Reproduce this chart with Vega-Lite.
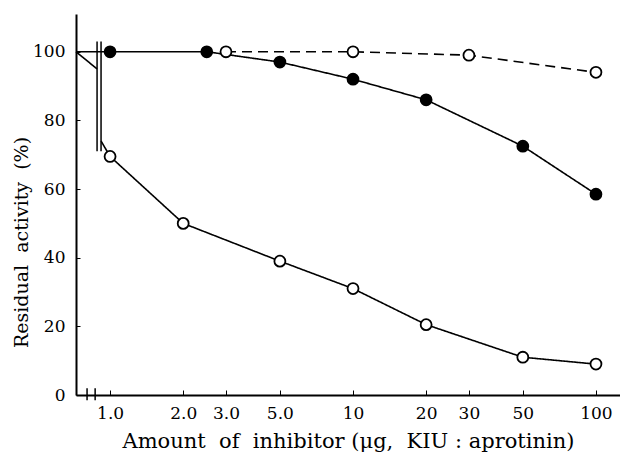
{
  "$schema": "https://vega.github.io/schema/vega-lite/v6.json",
  "width": 544,
  "height": 381,
  "autosize": {"type": "none"},
  "padding": {"left": 76, "top": 14, "right": 0, "bottom": 59},
  "background": "white",
  "config": {
    "view": {"stroke": null}
  },
  "datasets": {
    "lines": [
      {"id": "A", "style": "solid", "x": 0.724, "y": 100},
      {"id": "A", "style": "solid", "x": 0.884, "y": 95},
      {"id": "B", "style": "solid", "x": 0.918, "y": 74},
      {"id": "B", "style": "solid", "x": 1, "y": 69.5},
      {"id": "B", "style": "solid", "x": 2, "y": 50},
      {"id": "B", "style": "solid", "x": 5, "y": 39},
      {"id": "B", "style": "solid", "x": 10, "y": 31},
      {"id": "B", "style": "solid", "x": 20, "y": 20.5},
      {"id": "B", "style": "solid", "x": 50, "y": 11},
      {"id": "B", "style": "solid", "x": 100, "y": 9},
      {"id": "C", "style": "solid", "x": 0.724, "y": 100},
      {"id": "C", "style": "solid", "x": 1, "y": 100},
      {"id": "C", "style": "solid", "x": 2.5, "y": 100},
      {"id": "C", "style": "solid", "x": 5, "y": 97},
      {"id": "C", "style": "solid", "x": 10, "y": 92},
      {"id": "C", "style": "solid", "x": 20, "y": 86},
      {"id": "C", "style": "solid", "x": 50, "y": 72.5},
      {"id": "C", "style": "solid", "x": 100, "y": 58.5},
      {"id": "D", "style": "dashed", "x": 3, "y": 100},
      {"id": "D", "style": "dashed", "x": 10, "y": 100},
      {"id": "D", "style": "dashed", "x": 30, "y": 99},
      {"id": "D", "style": "dashed", "x": 100, "y": 94}
    ],
    "points": [
      {"fill": "open", "x": 1, "y": 69.5},
      {"fill": "open", "x": 2, "y": 50},
      {"fill": "open", "x": 5, "y": 39},
      {"fill": "open", "x": 10, "y": 31},
      {"fill": "open", "x": 20, "y": 20.5},
      {"fill": "open", "x": 50, "y": 11},
      {"fill": "open", "x": 100, "y": 9},
      {"fill": "open", "x": 3, "y": 100},
      {"fill": "open", "x": 10, "y": 100},
      {"fill": "open", "x": 30, "y": 99},
      {"fill": "open", "x": 100, "y": 94},
      {"fill": "filled", "x": 1, "y": 100},
      {"fill": "filled", "x": 2.5, "y": 100},
      {"fill": "filled", "x": 5, "y": 97},
      {"fill": "filled", "x": 10, "y": 92},
      {"fill": "filled", "x": 20, "y": 86},
      {"fill": "filled", "x": 50, "y": 72.5},
      {"fill": "filled", "x": 100, "y": 58.5}
    ],
    "breaks": [
      {"x": 0.884, "y": 71, "y2": 103},
      {"x": 0.918, "y": 71, "y2": 103},
      {"x": 0.804, "y": -1.5, "y2": 2},
      {"x": 0.868, "y": -1.5, "y2": 2}
    ]
  },
  "layer": [
    {
      "mark": {"type": "rule", "color": "black", "strokeWidth": 2},
      "encoding": {"y": {"datum": 111, "type": "quantitative", "scale": {"domain": [0, 111]}}}
    },
    {
      "data": {"name": "lines"},
      "mark": {"type": "line", "color": "black", "strokeWidth": 1.6},
      "encoding": {
        "x": {
          "field": "x", "type": "quantitative",
          "scale": {"type": "log", "domain": [0.724, 125.6], "nice": false},
          "axis": {
            "title": "Amount\u00a0\u00a0of\u00a0\u00a0inhibitor\u00a0(μg,\u00a0\u00a0KIU\u00a0:\u00a0aprotinin)",
            "values": [1, 2, 3, 5, 10, 20, 30, 50, 100],
            "labelExpr": "datum.value < 10 ? format(datum.value, '.1f') : format(datum.value, 'd')",
            "grid": false,
            "domainColor": "black",
            "domainWidth": 2,
            "tickColor": "black",
            "tickSize": -5,
            "labelFont": "DejaVu Serif",
            "labelFontSize": 17,
            "labelColor": "black",
            "labelPadding": 15,
            "titleFont": "DejaVu Serif",
            "titleFontSize": 21,
            "titleFontWeight": "normal",
            "titleColor": "black",
            "titlePadding": 9
          }
        },
        "y": {
          "field": "y", "type": "quantitative",
          "scale": {"domain": [0, 111], "nice": false},
          "axis": {
            "title": "Residual\u00a0\u00a0activity\u00a0\u00a0(%)",
            "values": [0, 20, 40, 60, 80, 100],
            "grid": false,
            "domainColor": "black",
            "domainWidth": 2,
            "tickColor": "black",
            "tickSize": -4,
            "labelFont": "DejaVu Serif",
            "labelFontSize": 17,
            "labelColor": "black",
            "labelPadding": 15,
            "titleFont": "DejaVu Serif",
            "titleFontSize": 19,
            "titleFontWeight": "normal",
            "titleColor": "black",
            "titlePadding": 1,
            "titleY": 228
          }
        },
        "detail": {"field": "id"},
        "strokeDash": {
          "field": "style", "type": "nominal",
          "scale": {"domain": ["solid", "dashed"], "range": [[1, 0], [10, 6]]},
          "legend": null
        }
      }
    },
    {
      "data": {"name": "breaks"},
      "mark": {"type": "rule", "color": "black", "strokeWidth": 1.5},
      "encoding": {
        "x": {"field": "x", "type": "quantitative"},
        "y": {"field": "y", "type": "quantitative"},
        "y2": {"field": "y2"}
      }
    },
    {
      "data": {"name": "points"},
      "mark": {"type": "point", "shape": "circle", "size": 120, "stroke": "black", "strokeWidth": 1.8, "opacity": 1},
      "encoding": {
        "x": {"field": "x", "type": "quantitative"},
        "y": {"field": "y", "type": "quantitative"},
        "fill": {
          "field": "fill", "type": "nominal",
          "scale": {"domain": ["open", "filled"], "range": ["white", "black"]},
          "legend": null
        }
      }
    }
  ]
}
